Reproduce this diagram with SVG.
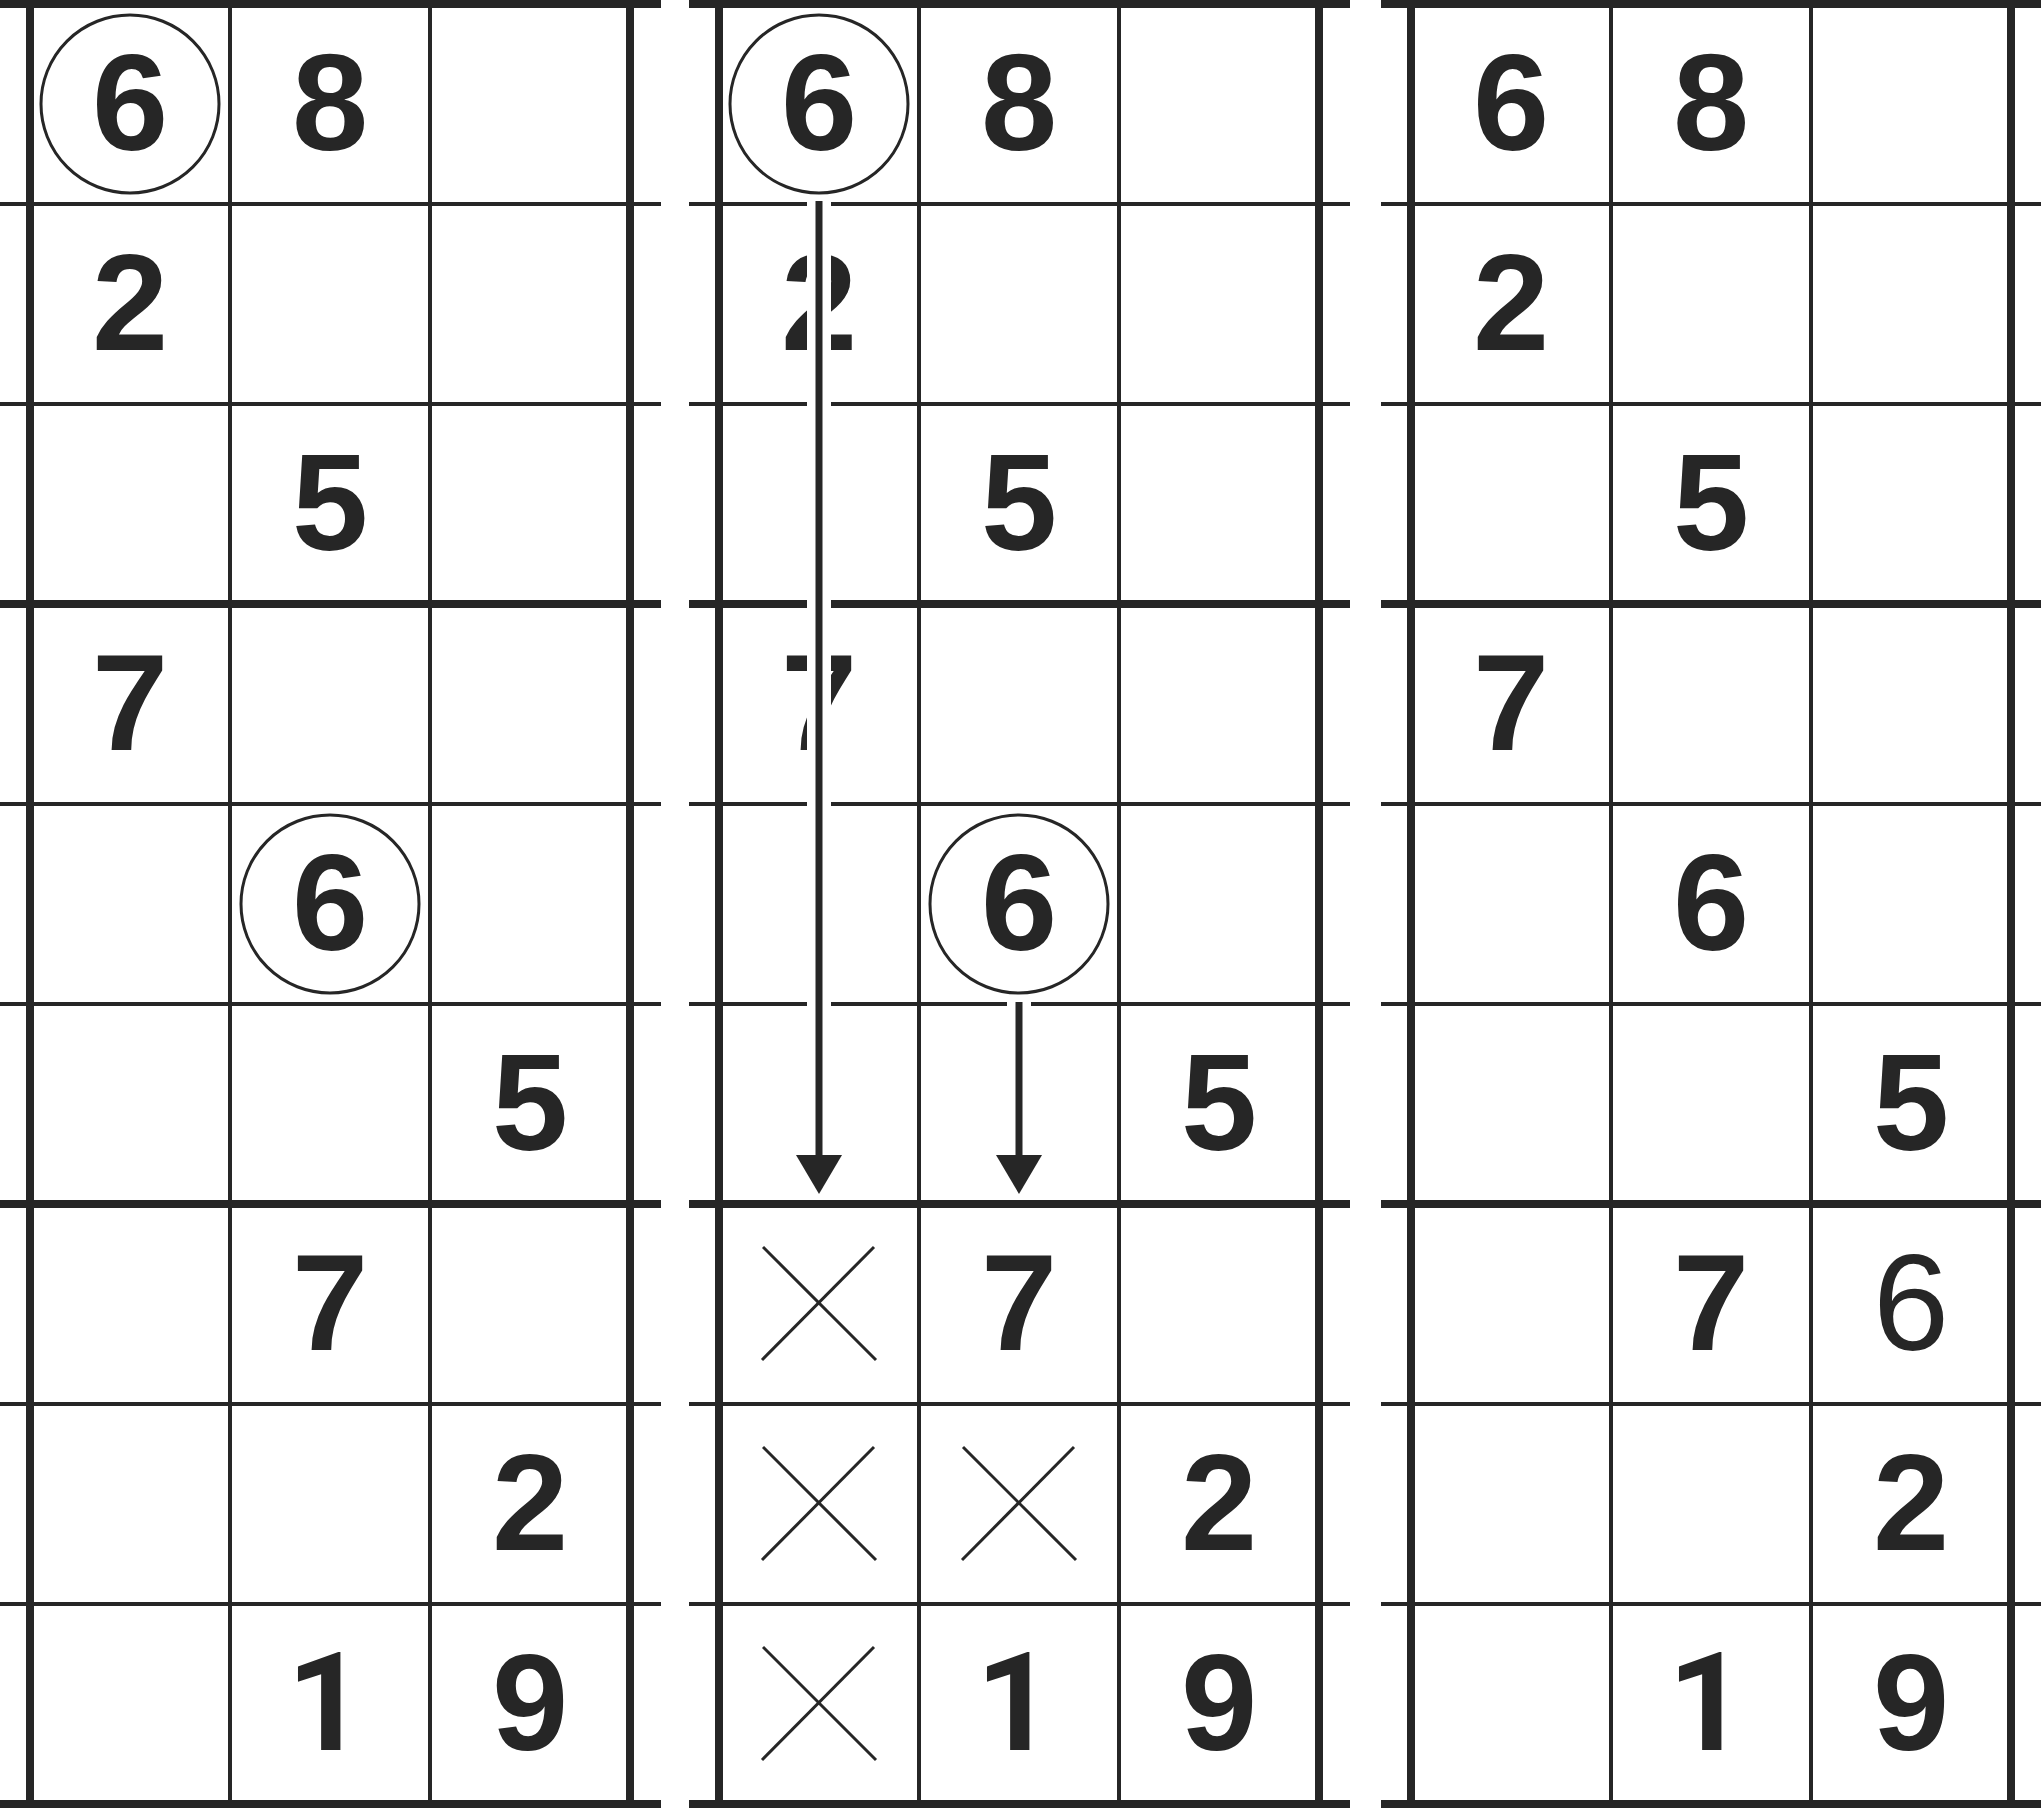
<svg xmlns="http://www.w3.org/2000/svg" xmlns:xlink="http://www.w3.org/1999/xlink" width="2041" height="1808" viewBox="0 0 2041 1808">
<style>
.bg{fill:#ffffff}
.tn{stroke:#262626;stroke-width:4;fill:none}
.tk{stroke:#262626;stroke-width:8;fill:none}
.d{font-family:"Liberation Sans",Arial,sans-serif;font-weight:bold;font-size:137px;text-anchor:middle;fill:#262626}
.one{font-family:Roboto,"Liberation Sans",sans-serif;font-weight:bold;font-size:137px;text-anchor:middle;fill:#262626}
.dr{font-family:"Liberation Sans",Arial,sans-serif;font-weight:normal;font-size:137px;text-anchor:middle;fill:#262626}
.ring{fill:none;stroke:#262626;stroke-width:3}
.halo{stroke:#ffffff;stroke-width:24;fill:none}
.arr{stroke:#262626;stroke-width:7;fill:none}
.head{fill:#262626}
.xm{stroke:#262626;stroke-width:3;fill:none}
</style>
<defs>
<g id="xmark"><line x1="-56" y1="-57" x2="57" y2="56" class="xm"/><line x1="55" y1="-57" x2="-57" y2="56" class="xm"/></g>
<g id="gridlines">
<line x1="-30" y1="204" x2="631" y2="204" class="tn"/>
<line x1="-30" y1="404" x2="631" y2="404" class="tn"/>
<line x1="-30" y1="804" x2="631" y2="804" class="tn"/>
<line x1="-30" y1="1004" x2="631" y2="1004" class="tn"/>
<line x1="-30" y1="1404" x2="631" y2="1404" class="tn"/>
<line x1="-30" y1="1604" x2="631" y2="1604" class="tn"/>
<line x1="-30" y1="4" x2="631" y2="4" class="tk"/>
<line x1="-30" y1="604" x2="631" y2="604" class="tk"/>
<line x1="-30" y1="1204" x2="631" y2="1204" class="tk"/>
<line x1="-30" y1="1804" x2="631" y2="1804" class="tk"/>
<line x1="200" y1="0" x2="200" y2="1808" class="tn"/>
<line x1="400" y1="0" x2="400" y2="1808" class="tn"/>
<line x1="0" y1="0" x2="0" y2="1808" class="tk"/>
<line x1="600" y1="0" x2="600" y2="1808" class="tk"/>
</g>
</defs>
<rect class="bg" x="0" y="0" width="2041" height="1808"/>

<g id="grid1">
<use xlink:href="#gridlines" href="#gridlines" transform="translate(30,0)"/>
<g id="g1-r0c0"><text class="d" x="130" y="150">6</text><circle class="ring" cx="130" cy="104" r="89"/></g>
<g id="g1-r0c1"><text class="d" x="330" y="150">8</text></g>
<g id="g1-r1c0"><text class="d" x="130" y="350">2</text></g>
<g id="g1-r2c1"><text class="d" x="330" y="550">5</text></g>
<g id="g1-r3c0"><text class="d" x="130" y="750">7</text></g>
<g id="g1-r4c1"><text class="d" x="330" y="950">6</text><circle class="ring" cx="330" cy="904" r="89"/></g>
<g id="g1-r5c2"><text class="d" x="530" y="1150">5</text></g>
<g id="g1-r6c1"><text class="d" x="330" y="1350">7</text></g>
<g id="g1-r7c2"><text class="d" x="530" y="1550">2</text></g>
<g id="g1-r8c1"><text class="one" x="326" y="1750">1</text></g>
<g id="g1-r8c2"><text class="d" x="530" y="1750">9</text></g>
</g>

<g id="grid2">
<use xlink:href="#gridlines" href="#gridlines" transform="translate(719,0)"/>
<g id="g2-r0c0"><text class="d" x="819" y="150">6</text><circle class="ring" cx="819" cy="104" r="89"/></g>
<g id="g2-r0c1"><text class="d" x="1019" y="150">8</text></g>
<g id="g2-r1c0"><text class="d" x="819" y="350">2</text></g>
<g id="g2-r2c1"><text class="d" x="1019" y="550">5</text></g>
<g id="g2-r3c0"><text class="d" x="819" y="750">7</text></g>
<g id="g2-r4c1"><text class="d" x="1019" y="950">6</text><circle class="ring" cx="1019" cy="904" r="89"/></g>
<g id="g2-r5c2"><text class="d" x="1219" y="1150">5</text></g>
<g id="g2-r6c1"><text class="d" x="1019" y="1350">7</text></g>
<g id="g2-r7c2"><text class="d" x="1219" y="1550">2</text></g>
<g id="g2-r8c1"><text class="one" x="1015" y="1750">1</text></g>
<g id="g2-r8c2"><text class="d" x="1219" y="1750">9</text></g>
<g id="g2-r6c0"><use xlink:href="#xmark" href="#xmark" transform="translate(819,1304)"/></g>
<g id="g2-r7c0"><use xlink:href="#xmark" href="#xmark" transform="translate(819,1504)"/></g>
<g id="g2-r7c1"><use xlink:href="#xmark" href="#xmark" transform="translate(1019,1504)"/></g>
<g id="g2-r8c0"><use xlink:href="#xmark" href="#xmark" transform="translate(819,1704)"/></g>
</g>

<g id="grid3">
<use xlink:href="#gridlines" href="#gridlines" transform="translate(1411,0)"/>
<g id="g3-r0c0"><text class="d" x="1511" y="150">6</text></g>
<g id="g3-r0c1"><text class="d" x="1711" y="150">8</text></g>
<g id="g3-r1c0"><text class="d" x="1511" y="350">2</text></g>
<g id="g3-r2c1"><text class="d" x="1711" y="550">5</text></g>
<g id="g3-r3c0"><text class="d" x="1511" y="750">7</text></g>
<g id="g3-r4c1"><text class="d" x="1711" y="950">6</text></g>
<g id="g3-r5c2"><text class="d" x="1911" y="1150">5</text></g>
<g id="g3-r6c1"><text class="d" x="1711" y="1350">7</text></g>
<g id="g3-r6c2"><text class="dr" x="1911" y="1350">6</text></g>
<g id="g3-r7c2"><text class="d" x="1911" y="1550">2</text></g>
<g id="g3-r8c1"><text class="one" x="1707" y="1750">1</text></g>
<g id="g3-r8c2"><text class="d" x="1911" y="1750">9</text></g>
</g>

<g id="connectors">
<line class="halo" x1="819" y1="199" x2="819" y2="1150"/>
<line class="halo" x1="1019" y1="999" x2="1019" y2="1150"/>
<line class="arr" x1="819" y1="201" x2="819" y2="1160"/>
<polygon class="head" points="796,1155 842,1155 819,1194"/>
<line class="arr" x1="1019" y1="1002" x2="1019" y2="1160"/>
<polygon class="head" points="996,1155 1042,1155 1019,1194"/>
</g>
</svg>
